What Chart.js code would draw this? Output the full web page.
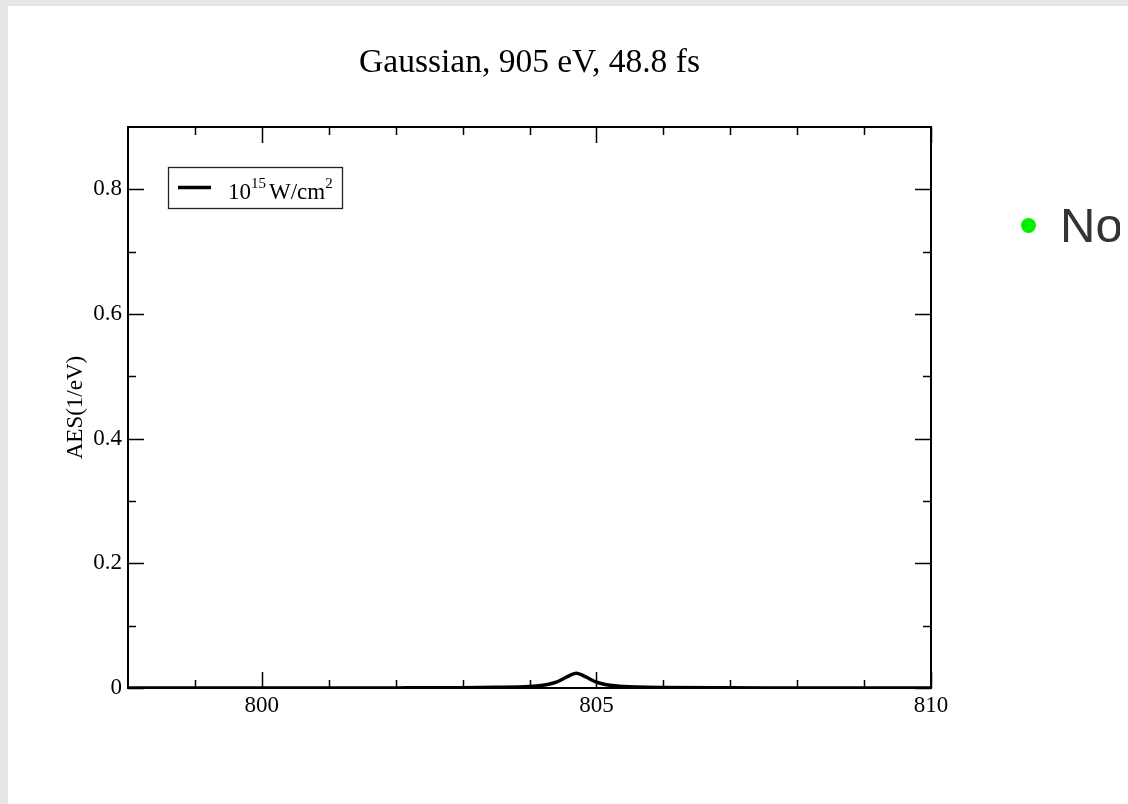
<!DOCTYPE html>
<html>
<head>
<meta charset="utf-8">
<script src="https://cdn.jsdelivr.net/npm/chart.js@4.4.1/dist/chart.umd.min.js"></script>
<style>
  html, body { margin:0; padding:0; width:1128px; height:804px; overflow:hidden; background:#e6e6e6; }
  #slide { position:absolute; left:8px; top:6px; width:1120px; height:798px; background:#ffffff; }
  #wrap { position:absolute; left:0; top:0; width:1128px; height:804px; }
  #bulletClip { position:absolute; left:1000px; top:190px; width:120px; height:80px; overflow:hidden; }
  #dot { position:absolute; left:20.5px; top:27.5px; width:15px; height:15px; border-radius:50%; background:#00f000; }
  #btext { position:absolute; left:60px; top:11px; font-family:"Liberation Sans", Arial, sans-serif; font-size:49px; line-height:49px; color:#333333; white-space:nowrap; }
</style>
</head>
<body>
<div id="slide"></div>
<div id="wrap"><canvas id="c" width="1128" height="804"></canvas></div>
<div id="bulletClip"><div id="dot"></div><div id="btext">No</div></div>
<script>
// ---- data ----
const energies  = [798, 800, 802, 803, 803.5, 804, 804.2, 804.3, 804.4, 804.5, 804.6, 804.7, 804.8, 804.9, 805.0, 805.1, 805.2, 805.4, 805.6, 806, 807, 808, 810];
const aesValues = [0, 0, 0.0002, 0.0006, 0.0012, 0.0025, 0.0045, 0.0065, 0.0095, 0.0145, 0.020, 0.0235, 0.020, 0.0145, 0.0095, 0.0065, 0.0045, 0.0025, 0.0015, 0.0008, 0.0003, 0.0001, 0];
const seriesLabel = '10^15 W/cm^2';
const chartTitle = 'Gaussian, 905 eV, 48.8 fs';
const yAxisTitle = 'AES(1/eV)';
const xRange = [798, 810];
const yRange = [0, 0.9];
const xMajorTicks = [800, 805, 810];
const xTickLabels = ['800', '805', '810'];
const xMinorTicks = [799, 801, 802, 803, 804, 806, 807, 808, 809];
const yMajorTicks = [0, 0.2, 0.4, 0.6, 0.8];
const yTickLabels = ['0', '0.2', '0.4', '0.6', '0.8'];
const yMinorTicks = [0.1, 0.3, 0.5, 0.7];

const SERIF = '"Liberation Serif", "Times New Roman", serif';

const frameTicks = {
  id: 'frameTicks',
  afterDraw(chart) {
    const { ctx, chartArea: a, scales: { x, y } } = chart;
    ctx.save();
    ctx.strokeStyle = '#000';
    ctx.lineWidth = 1.5;
    const MAJ = 16, MIN = 8;
    const vt = (v, len) => {
      const px = Math.round(x.getPixelForValue(v)) + 0.5;
      ctx.beginPath();
      ctx.moveTo(px, a.bottom); ctx.lineTo(px, a.bottom - len);
      ctx.moveTo(px, a.top); ctx.lineTo(px, a.top + len);
      ctx.stroke();
    };
    const ht = (v, len) => {
      const py = Math.round(y.getPixelForValue(v)) + 0.5;
      ctx.beginPath();
      ctx.moveTo(a.left, py); ctx.lineTo(a.left + len, py);
      ctx.moveTo(a.right, py); ctx.lineTo(a.right - len, py);
      ctx.stroke();
    };
    xMajorTicks.forEach(v => vt(v, MAJ));
    xMinorTicks.forEach(v => vt(v, MIN));
    yMajorTicks.forEach(v => ht(v, MAJ));
    yMinorTicks.forEach(v => ht(v, MIN));
    ctx.lineWidth = 2;
    ctx.strokeRect(a.left, a.top, a.right - a.left, a.bottom - a.top);
    ctx.restore();
  }
};

const boxLegend = {
  id: 'boxLegend',
  afterDraw(chart) {
    const { ctx, chartArea: a } = chart;
    const ds = chart.data.datasets[0];
    const bx = a.left + 40, by = a.top + 40, bw = 174, bh = 41;
    ctx.save();
    ctx.strokeStyle = '#222';
    ctx.lineWidth = 1.3;
    ctx.strokeRect(bx + 0.5, by + 0.5, bw, bh);
    ctx.strokeStyle = ds.borderColor;
    ctx.lineWidth = ds.borderWidth;
    ctx.beginPath();
    ctx.moveTo(bx + 10, by + 20.5); ctx.lineTo(bx + 43, by + 20.5);
    ctx.stroke();
    // label with superscripts
    const parts = ds.label.split(/(\^\w+)/).filter(s => s.length);
    let tx = bx + 60;
    const base = by + 32;
    ctx.fillStyle = '#000';
    ctx.textBaseline = 'alphabetic';
    ctx.textAlign = 'left';
    parts.forEach(p => {
      if (p[0] === '^') {
        ctx.font = '15px ' + SERIF;
        const t = p.slice(1);
        ctx.fillText(t, tx, base - 11);
        tx += ctx.measureText(t).width;
      } else {
        ctx.font = '23px ' + SERIF;
        const t = p.trim();
        if (p !== t && tx > bx + 60) tx += 3;
        ctx.fillText(t, tx, base);
        tx += ctx.measureText(t).width;
      }
    });
    ctx.restore();
  }
};

new Chart(document.getElementById('c'), {
  type: 'line',
  data: {
    datasets: [{
      label: seriesLabel,
      data: energies.map((e, i) => ({ x: e, y: aesValues[i] })),
      borderColor: '#000',
      borderWidth: 3.5,
      pointRadius: 0,
      fill: false,
      cubicInterpolationMode: 'monotone'
    }]
  },
  options: {
    responsive: false,
    animation: false,
    events: [],
    layout: { padding: { left: 62, right: 197, top: 0, bottom: 71 } },
    plugins: {
      legend: { display: false },
      tooltip: { enabled: false },
      title: {
        display: true,
        text: chartTitle,
        fullSize: false,
        color: '#000',
        font: { family: SERIF, size: 33.5, weight: 'normal', lineHeight: 1.2 },
        padding: { top: 43, bottom: 43.8 }
      }
    },
    scales: {
      x: {
        type: 'linear',
        position: 'bottom',
        min: xRange[0], max: xRange[1],
        grid: { display: false, drawTicks: false },
        border: { display: false },
        afterBuildTicks: s => { s.ticks = xMajorTicks.map(v => ({ value: v })); },
        afterFit: s => { s.height = 45; },
        ticks: {
          color: '#000',
          padding: 4,
          maxRotation: 0,
          font: { family: SERIF, size: 23 },
          callback: (v) => { const i = xMajorTicks.indexOf(v); return i >= 0 ? xTickLabels[i] : ''; }
        }
      },
      y: {
        type: 'linear',
        min: yRange[0], max: yRange[1],
        grid: { display: false, drawTicks: false },
        border: { display: false },
        afterBuildTicks: s => { s.ticks = yMajorTicks.map(v => ({ value: v })); },
        afterFit: s => { s.width = 66; },
        title: {
          display: true,
          text: yAxisTitle,
          color: '#000',
          font: { family: SERIF, size: 23, weight: 'normal' },
          padding: 0
        },
        ticks: {
          color: '#000',
          padding: 6,
          font: { family: SERIF, size: 23 },
          callback: (v) => { const i = yMajorTicks.indexOf(v); return i >= 0 ? yTickLabels[i] : ''; }
        }
      }
    }
  },
  plugins: [frameTicks, boxLegend]
});
</script>
</body>
</html>
